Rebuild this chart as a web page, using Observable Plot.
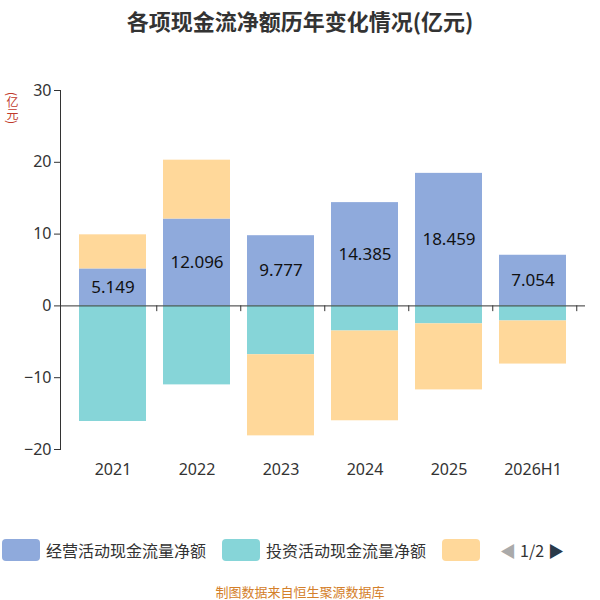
<!DOCTYPE html>
<html><head><meta charset="utf-8">
<script src="https://cdn.jsdelivr.net/npm/d3@7"></script>
<script src="https://cdn.jsdelivr.net/npm/@observablehq/plot@0.6"></script>
<style>
body{margin:0;width:600px;height:600px;background:#fff;font-family:"Noto Sans CJK SC","Noto Sans",sans-serif;position:relative;overflow:hidden}
#title{position:absolute;top:4px;width:600px;text-align:center;font-size:22px;font-weight:bold;color:#333}
#chart{position:absolute;top:60px;left:0}
#ylab{position:absolute;left:4px;top:92px;writing-mode:vertical-rl;white-space:nowrap;font-size:12px;color:#c0392b}
#legend{position:absolute;top:538px;left:0;width:600px;font-size:16px;color:#333;display:flex;align-items:center}
.sw{display:inline-block;width:38px;height:22px;border-radius:4px;margin-right:6px}
#cap{position:absolute;top:582px;width:600px;text-align:center;font-size:13px;color:#d4802a}
</style></head><body>
<div id="title">各项现金流净额历年变化情况(亿元)</div>
<div id="chart"></div>
<div id="ylab">(亿元)</div>
<div id="legend"></div>
<div id="cap">制图数据来自恒生聚源数据库</div>
<script>
const years=["2021","2022","2023","2024","2025","2026H1"];
const series=["经营活动现金流量净额","投资活动现金流量净额","筹资活动现金流量净额"];
const colors=["#8FAADC","#86D5D8","#FFD89A"];
const operating=[5.149,12.096,9.777,14.385,18.459,7.054];
const investing=[-16.1,-11.0,-6.8,-3.5,-2.5,-2.1];
const financing=[4.75,8.2,-11.3,-12.5,-9.2,-6.0];
const vals=[operating,investing,financing];
const data=[];
series.forEach((s,i)=>years.forEach((y,j)=>data.push({year:y,series:s,value:vals[i][j]})));
const opData=years.map((y,j)=>({year:y,value:operating[j]}));
const plot=Plot.plot({
  width:600,height:430,marginTop:30,marginLeft:60,marginRight:15,marginBottom:41,
  style:{fontSize:"16px",fontFamily:"Noto Sans",color:"#333"},
  x:{domain:years,padding:0.2,label:null,tickSize:0,tickPadding:14},
  y:{domain:[-20,30],ticks:[-20,-10,0,10,20,30],label:null,tickSize:6,tickPadding:4},
  color:{domain:series,range:colors},
  marks:[
    Plot.barY(data,{x:"year",y:"value",fill:"series",order:series}),
    Plot.ruleY([0],{stroke:"#333"}),
    Plot.ruleX(years,{x:d=>d,y1:0,y2:-0.8,stroke:"#333",dx:43.75}),
    Plot.frame({anchor:"left",stroke:"#333"}),
    Plot.axisY({tickSize:6,ticks:[-20,-10,0,10,20,30],stroke:"#333"}),
    Plot.text(opData,{x:"year",y:d=>d.value/2,text:d=>d.value.toFixed(3),fontSize:17,fill:"#111"})
  ]
});
document.getElementById("chart").appendChild(plot);
const lg=document.getElementById("legend");
lg.innerHTML=`<span class="sw" style="background:${colors[0]};margin-left:2px"></span>${series[0]}
<span class="sw" style="background:${colors[1]};margin-left:16px"></span>${series[1]}
<span class="sw" style="background:${colors[2]};margin-left:16px"></span>
<span style="margin-left:14px;color:#aaa">◀</span><span style="margin:0 4px">1/2</span><span style="color:#2a3a4a">▶</span>`;
</script></body></html>
